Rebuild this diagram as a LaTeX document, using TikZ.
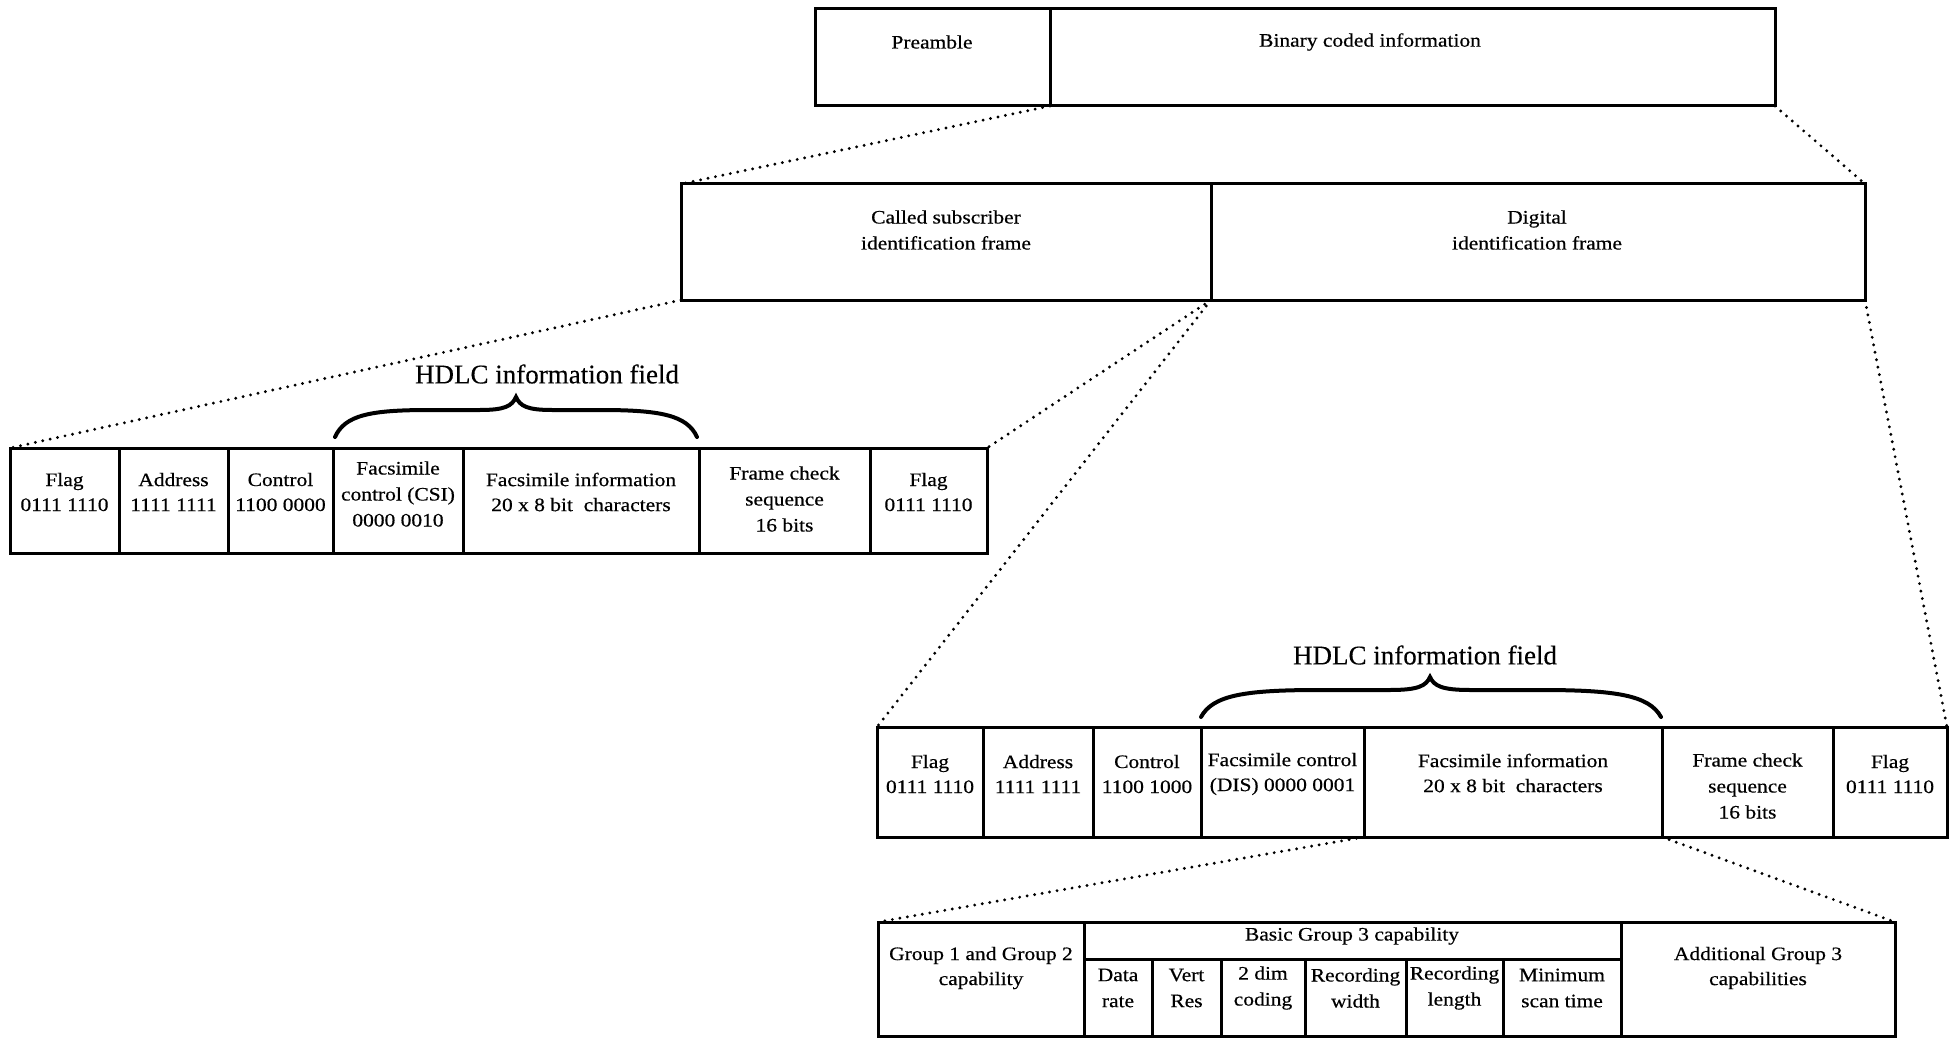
\documentclass[tikz,border=0pt]{standalone}
\usepackage{fontspec}
\setmainfont[FakeStretch=1.13, FakeBold=0.5]{Liberation Serif}
\newfontfamily\hdlcfont[FakeBold=0.3]{Liberation Serif}
\tikzset{
  boxc/.style={draw, line width=1.5pt, inner sep=0pt, outer sep=0pt},
  txt/.style={font=\fontsize{9.5pt}{12.5pt}\selectfont, align=center, inner sep=0pt},
  txtwide/.style={font=\fontsize{9.5pt}{13pt}\selectfont, align=center, inner sep=0pt},
  dots/.style={line width=1.6pt, line cap=round, dash pattern=on 0pt off 3.8pt},
  bracec/.style={line width=2pt, line cap=round},
  hdlc/.style={font=\hdlcfont\fontsize{13.5pt}{16pt}\selectfont, inner sep=0pt},
}
\newcommand\mkbox[5]{%
  \pgfmathsetmacro\bw{(#4-#2)*0.5}%
  \pgfmathsetmacro\bh{(#5-#3)*0.5}%
  \node[boxc, minimum width=\bw pt, minimum height=\bh pt] (#1) at ({(#2+#4)/2},{(#3+#5)/2}) {};}
\begin{document}
\begin{tikzpicture}[x=0.5pt, y=-0.5pt]
\useasboundingbox (0,0) rectangle (1950,1038);

% top frame
\mkbox{pre}{815}{9}{1050}{106}
\mkbox{bin}{1050}{9}{1775}{106}
\node[txt] (pre-t) at (932,42) {Preamble};
\node[txt] (bin-t) at (1370,42) {Binary coded information};

% second frame
\mkbox{csif}{681}{184}{1211}{300}
\mkbox{dig}{1211}{184}{1865}{300}
\node[txtwide] (csif-t) at (946,230) {Called subscriber\\identification frame};
\node[txtwide] (dig-t) at (1537,230) {Digital\\identification frame};

% HDLC frame 1
\mkbox{h1a}{10}{448}{119}{553}
\mkbox{h1b}{119}{448}{228}{553}
\mkbox{h1c}{228}{448}{333}{553}
\mkbox{h1d}{333}{448}{463}{553}
\mkbox{h1e}{463}{448}{699}{553}
\mkbox{h1f}{699}{448}{870}{553}
\mkbox{h1g}{870}{448}{987}{553}
\node[txt] (h1a-t) at (64.5,492) {Flag\\0111 1110};
\node[txt] (h1b-t) at (173.5,492) {Address\\1111 1111};
\node[txt] (h1c-t) at (280.5,492) {Control\\1100 0000};
\node[txtwide] (h1d-t) at (398,494) {Facsimile\\control (CSI)\\0000 0010};
\node[txt] (h1e-t) at (581,492) {Facsimile information\\20 x 8 bit\ \ characters};
\node[txtwide] (h1f-t) at (784.5,499) {Frame check\\sequence\\16 bits};
\node[txt] (h1g-t) at (928.5,492) {Flag\\0111 1110};

\draw[bracec] (335,437) .. controls (345,415) and (370,410) .. (430,410)
  -- (480,410) .. controls (505,410) and (512,406) .. (516,397)
  .. controls (520,406) and (527,410) .. (552,410)
  -- (600,410) .. controls (660,410) and (687,415) .. (697,437);
\node[hdlc] (lab1) at (547,374) {HDLC information field};

% HDLC frame 2
\mkbox{h2a}{877}{727}{983}{837}
\mkbox{h2b}{983}{727}{1093}{837}
\mkbox{h2c}{1093}{727}{1201}{837}
\mkbox{h2d}{1201}{727}{1364}{837}
\mkbox{h2e}{1364}{727}{1662}{837}
\mkbox{h2f}{1662}{727}{1833}{837}
\mkbox{h2g}{1833}{727}{1947}{837}
\node[txt] (h2a-t) at (930,774) {Flag\\0111 1110};
\node[txt] (h2b-t) at (1038,774) {Address\\1111 1111};
\node[txt] (h2c-t) at (1147,774) {Control\\1100 1000};
\node[txt] (h2d-t) at (1282.5,774) {Facsimile control\\(DIS) 0000 0001};
\node[txt] (h2e-t) at (1513,773) {Facsimile information\\20 x 8 bit\ \ characters};
\node[txtwide] (h2f-t) at (1747.5,786) {Frame check\\sequence\\16 bits};
\node[txt] (h2g-t) at (1890,774) {Flag\\0111 1110};

\draw[bracec] (1201,717) .. controls (1213,695) and (1245,690) .. (1320,690)
  -- (1390,690) .. controls (1418,690) and (1426,686) .. (1430,677)
  .. controls (1434,686) and (1442,690) .. (1470,690)
  -- (1540,690) .. controls (1615,690) and (1649,695) .. (1661,717);
\node[hdlc] (lab2) at (1425,655) {HDLC information field};

% DIS table
\mkbox{g12}{878}{922}{1084}{1036}
\mkbox{basic}{1084}{922}{1621}{959}
\mkbox{dr}{1084}{959}{1152}{1036}
\mkbox{vr}{1152}{959}{1221}{1036}
\mkbox{dim}{1221}{959}{1305}{1036}
\mkbox{rw}{1305}{959}{1406}{1036}
\mkbox{rl}{1406}{959}{1503}{1036}
\mkbox{mst}{1503}{959}{1621}{1036}
\mkbox{add}{1621}{922}{1895}{1036}
\node[txt] (g12-t) at (981,968) {Group 1 and Group 2\\capability};
\node[txt] (basic-t) at (1352,936) {Basic Group 3 capability};
\node[txtwide] (dr-t) at (1118,988) {Data\\rate};
\node[txtwide] (vr-t) at (1186.5,988) {Vert\\Res};
\node[txtwide] (dim-t) at (1263,988) {2 dim\\coding};
\node[txtwide] (rw-t) at (1355.5,988) {Recording\\width};
\node[txtwide] (rl-t) at (1454.5,988) {Recording\\length};
\node[txtwide] (mst-t) at (1562,988) {Minimum\\scan time};
\node[txt] (add-t) at (1758,968) {Additional Group 3\\capabilities};

% dotted expansion lines
\draw[dots] (pre.south east) -- (csif.north west);
\draw[dots] (bin.south east) -- (dig.north east);
\draw[dots] (csif.south west) -- (h1a.north west);
\draw[dots] (csif.south east) -- (h1g.north east);
\draw[dots] (dig.south west) -- (h2a.north west);
\draw[dots] (dig.south east) -- (h2g.north east);
\draw[dots] (h2e.south west) -- (g12.north west);
\draw[dots] (h2e.south east) -- (add.north east);
\end{tikzpicture}
\end{document}
